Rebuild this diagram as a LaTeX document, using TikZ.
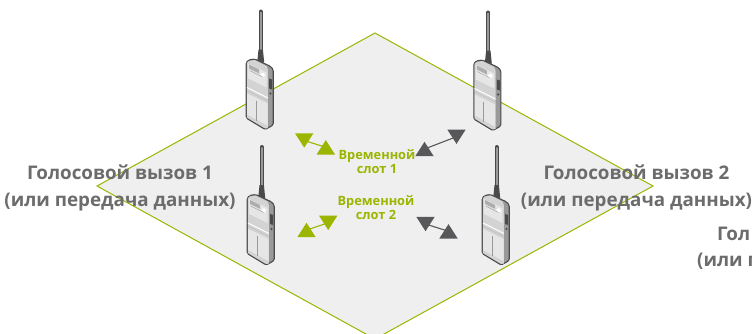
\documentclass[tikz,border=0pt]{standalone}
\usepackage{fontspec}
\setmainfont{Open Sans}
\definecolor{limeg}{HTML}{9CB500}
\definecolor{floorg}{HTML}{EFEFEF}
\definecolor{darkg}{HTML}{58585A}
\definecolor{textg}{HTML}{6C6C6C}
\definecolor{edgeg}{HTML}{4A4A4A}
\definecolor{bodyg}{HTML}{D2D3D2}
\definecolor{sideg}{HTML}{999999}
\definecolor{panelg}{HTML}{E6E6E6}
\tikzset{
  floorshape/.style={fill=floorg,draw=limeg,line width=1pt},
  calltext/.style={font=\bfseries\fontsize{18.8}{27}\selectfont,text=textg,align=center,inner sep=0pt},
  slottext/.style={font=\bfseries\fontsize{12.8}{13.3}\selectfont,text=limeg,align=center,inner sep=0pt},
  linkgreen/.style={draw=limeg,line width=1.1pt},
  linkgray/.style={draw=darkg,line width=1.1pt},
  pics/radio/.style={code={
    % antenna
    \draw[line width=4pt,line cap=round,draw=edgeg] (0,2)--(0,42);
    \draw[line width=1.8pt,line cap=round,draw=sideg] (0,3)--(0,42);
    \fill[edgeg] (-2.2,40)--(2.2,40)--(3.5,53)--(-3.5,53)--cycle;
    % body outline
    \draw[fill=sideg,draw=edgeg,line width=1.1pt,line join=round,rounded corners=1.5pt]
      (-14.5,53)--(-12,50.5)--(-6,49.5)--(10,57)--(12.5,60)--(12.5,115.5)--(4.5,120)--(-14.5,108.5)--cycle;
    % front face
    \fill[bodyg] (-13.8,53.5)--(-12,51.5)--(-6,50.5)--(6,56.5)--(7.2,60)--(7.2,118.5)--(4.5,119)--(-13.8,108)--cycle;
    % upper panel
    \fill[panelg] (-12.5,54)--(6,63)--(6,78)--(-12.5,69)--cycle;
    % display
    \fill[sideg!80!white] (-11.5,55)--(-1.5,60)--(-1.5,64)--(-11.5,59)--cycle;
    \fill[white] (2,65.5) circle (2.2);
    \draw[sideg,line width=.4pt] (-11,61)--(2,67.5);
    % band
    \draw[white,line width=1pt] (-13.8,78)--(7.2,88.5);
    \draw[sideg!70!white,line width=.4pt] (-13.8,81)--(7.2,91.5);
    % lower panel
    \fill[panelg] (-13.5,84)--(6.8,94)--(6.8,116)--(-13.5,105)--cycle;
    \draw[sideg,line width=.8pt] (-4.5,91)--(-4.5,111);
    % side details
    \fill[edgeg] (8.5,69)--(11.5,70)--(11.5,80)--(8.5,79)--cycle;
    \fill[edgeg] (9.8,84) circle (1.2);
  }},
  pics/tridown/.style args={#1}{code={\fill[#1] (-9.2,-7.2)--(9.2,-7.2)--(0,7.2)--cycle;}},
  pics/triup/.style args={#1}{code={\fill[#1] (-9.2,7.2)--(9.2,7.2)--(0,-7.2)--cycle;}}
}
\begin{document}
\begin{tikzpicture}[x=1pt,y=-1pt]
\useasboundingbox (0,0) rectangle (752,333);
\clip (0,0) rectangle (752,333);
% floor
\coordinate (ftop) at (375,33);
\coordinate (fright) at (653,186);
\coordinate (fbot) at (375,339);
\coordinate (fleft) at (97,186);
\draw[floorshape] (ftop)--(fright)--(fbot)--(fleft)--cycle;
% radios
\pic at (260.7,9.5) {radio};
\pic at (488.3,10.5) {radio};
\pic at (261.7,145) {radio};
\pic at (496.7,145) {radio};
% links
\coordinate (a1) at (304.2,140.5);
\coordinate (a2) at (325.8,147.3);
\coordinate (b1) at (424.5,149);
\coordinate (b2) at (456.5,136.7);
\coordinate (c1) at (328.2,222.8);
\coordinate (c2) at (306.5,230);
\coordinate (d1) at (425.5,224);
\coordinate (d2) at (448.5,231.3);
\draw[linkgreen] (a1)--(a2);
\draw[linkgray] (b1)--(b2);
\draw[linkgreen] (c1)--(c2);
\draw[linkgray] (d1)--(d2);
\pic at (a1) {tridown=limeg};
\pic at (a2) {triup=limeg};
\pic at (b1) {triup=darkg};
\pic at (b2) {tridown=darkg};
\pic at (c1) {tridown=limeg};
\pic at (c2) {triup=limeg};
\pic at (d1) {tridown=darkg};
\pic at (d2) {triup=darkg};
% labels
\node[slottext] (slot1) at (377,161.5) {Временной\\слот 1};
\node[slottext] (slot2) at (376,207.5) {Временной\\слот 2};
\node[calltext] (call1) at (120,188) {Голосовой вызов 1\\(или передача данных)};
\node[calltext] (call2) at (636.5,188) {Голосовой вызов 2\\(или передача данных)};
\node[calltext,anchor=base west] (call3a) at (717,240) {Гол};
\node[calltext,anchor=base west] (call3b) at (697,266.5) {(или п};
\end{tikzpicture}
\end{document}
